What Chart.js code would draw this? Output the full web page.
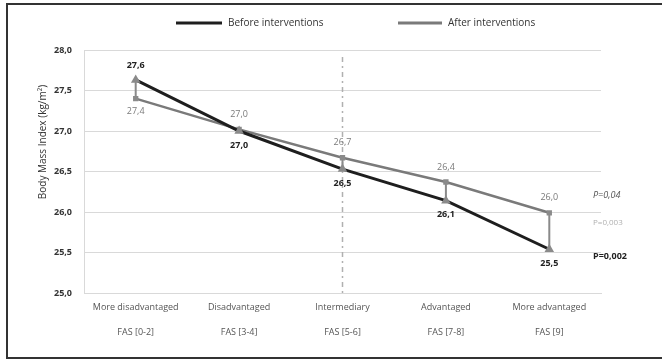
<!DOCTYPE html>
<html lang="en">
<head>
  <meta charset="UTF-8">
  <title>Body Mass Index by FAS</title>
  <script src="https://cdn.jsdelivr.net/npm/chart.js"></script>
  <style>
    body { margin: 0; background: #fff; }
    #wrap { position: relative; width: 662px; height: 361px; }
  </style>
</head>
<body>
  <div id="wrap">
    <canvas id="chartBmi" width="662" height="361"></canvas>
  </div>

  <script>
    // data
    const groups = ["More disadvantaged", "Disadvantaged", "Intermediary", "Advantaged", "More advantaged"];
    const fasLabels = ["FAS [0-2]", "FAS [3-4]", "FAS [5-6]", "FAS [7-8]", "FAS [9]"];
    const beforeValues = [27.63, 27.0, 26.53, 26.14, 25.54];
    const afterValues = [27.4, 27.02, 26.67, 26.37, 25.99];
    const yTicks = [25.0, 25.5, 26.0, 26.5, 27.0, 27.5, 28.0];
    const pTexts = ["P=0,04", "P=0,003", "P=0,002"];
    const pLevels = [26.2, 25.87, 25.45];

    const fmt = v => v.toFixed(1).replace(".", ",");

    // frame, legend, y title, connectors, value labels, p values
    const extras = {
      id: "extras",
      beforeDraw(chart) {
        const ctx = chart.ctx;
        ctx.save();
        ctx.fillStyle = "#fff";
        ctx.fillRect(0, 0, chart.width, chart.height);
        ctx.restore();
      },
      beforeDatasetsDraw(chart) {
        const ctx = chart.ctx;
        const x = chart.scales.x, y = chart.scales.y;
        ctx.save();
        // dash-dot line at Intermediary
        const xm = x.getPixelForValue(2);
        ctx.strokeStyle = "#b0b0b0";
        ctx.lineWidth = 1.5;
        ctx.setLineDash([5, 4, 2, 4]);
        ctx.beginPath();
        ctx.moveTo(xm, y.top + 7);
        ctx.lineTo(xm, y.bottom);
        ctx.stroke();
        ctx.setLineDash([]);
        // connectors before/after
        ctx.strokeStyle = "#8a8a8a";
        ctx.lineWidth = 2;
        groups.forEach((g, i) => {
          const px = x.getPixelForValue(i);
          ctx.beginPath();
          ctx.moveTo(px, y.getPixelForValue(beforeValues[i]));
          ctx.lineTo(px, y.getPixelForValue(afterValues[i]));
          ctx.stroke();
        });
        ctx.restore();
      },
      afterDraw(chart) {
        const ctx = chart.ctx;
        const x = chart.scales.x, y = chart.scales.y;
        ctx.save();

        // frame (right side is cut off in the original)
        ctx.strokeStyle = "#333";
        ctx.lineWidth = 2;
        ctx.beginPath();
        ctx.moveTo(chart.width, 4);
        ctx.lineTo(7, 4);
        ctx.lineTo(7, 358);
        ctx.lineTo(chart.width, 358);
        ctx.stroke();

        // legend
        ctx.lineWidth = 3;
        ctx.strokeStyle = "#1e1e1e";
        ctx.beginPath(); ctx.moveTo(176, 23); ctx.lineTo(222, 23); ctx.stroke();
        ctx.strokeStyle = "#7a7a7a";
        ctx.beginPath(); ctx.moveTo(398, 23); ctx.lineTo(442, 23); ctx.stroke();
        ctx.fillStyle = "#333";
        ctx.font = "10px 'Open Sans'";
        ctx.textBaseline = "middle";
        ctx.textAlign = "left";
        ctx.fillText("Before interventions", 228, 23);
        ctx.fillText("After interventions", 448, 23);

        // y axis title
        ctx.save();
        ctx.translate(43, 142);
        ctx.rotate(-Math.PI / 2);
        ctx.textAlign = "center";
        ctx.font = "10px 'Open Sans'";
        ctx.fillStyle = "#333";
        ctx.fillText("Body Mass Index (kg/m\u00b2)", 0, 0);
        ctx.restore();

        // value labels
        ctx.textAlign = "center";
        groups.forEach((g, i) => {
          const px = x.getPixelForValue(i);
          const bUp = i === 0;
          const pb = y.getPixelForValue(beforeValues[i]);
          const pa = y.getPixelForValue(afterValues[i]);
          ctx.font = "bold 9px 'Open Sans'";
          ctx.fillStyle = "#222";
          ctx.fillText(fmt(beforeValues[i]), px, pb + (bUp ? -15 : 14));
          ctx.font = "9px 'Open Sans'";
          ctx.fillStyle = "#7a7a7a";
          ctx.fillText(fmt(afterValues[i]), px, pa + (bUp ? 13 : -15));
        });

        // p values
        ctx.textAlign = "left";
        const pStyles = [
          ["italic 9px 'Open Sans'", "#555"],
          ["8px 'Open Sans'", "#b0b0b0"],
          ["bold 9px 'Open Sans'", "#222"]
        ];
        pTexts.forEach((t, i) => {
          ctx.font = pStyles[i][0];
          ctx.fillStyle = pStyles[i][1];
          ctx.fillText(t, x.right - 8, y.getPixelForValue(pLevels[i]));
        });
        ctx.restore();
      }
    };

    const ctx = document.getElementById("chartBmi").getContext("2d");
    new Chart(ctx, {
      type: "line",
      data: {
        labels: groups.map((g, i) => [g, fasLabels[i]]),
        datasets: [
          {
            label: "Before interventions",
            data: beforeValues,
            borderColor: "#1e1e1e",
            borderWidth: 3,
            pointStyle: "triangle",
            pointRadius: 2.5,
            pointBackgroundColor: "#8a8a8a",
            pointBorderColor: "#8a8a8a",
            tension: 0
          },
          {
            label: "After interventions",
            data: afterValues,
            borderColor: "#7a7a7a",
            borderWidth: 2.5,
            pointStyle: "rect",
            pointRadius: 2,
            pointBackgroundColor: "#8a8a8a",
            pointBorderColor: "#8a8a8a",
            tension: 0
          }
        ]
      },
      options: {
        responsive: false,
        animation: false,
        layout: { padding: { left: 20, right: 61, top: 50, bottom: 13 } },
        plugins: {
          legend: { display: false },
          tooltip: { enabled: false }
        },
        scales: {
          x: {
            offset: true,
            grid: { display: false, drawTicks: false },
            border: { color: "#d9d9d9" },
            ticks: {
              padding: 2,
              color: "#555",
              font: { family: "'Open Sans'", size: 9, lineHeight: 2.75 },
              maxRotation: 0,
              autoSkip: false
            },
            afterFit: s => { s.height = 55; }
          },
          y: {
            min: 25,
            max: 28,
            afterBuildTicks: s => { s.ticks = yTicks.map(v => ({ value: v })); },
            grid: { color: "#d9d9d9", drawTicks: false },
            border: { color: "#d9d9d9" },
            ticks: {
              padding: 12,
              color: "#333",
              font: { family: "'Open Sans'", size: 9, weight: "bold" },
              callback: v => fmt(v)
            },
            afterFit: s => { s.width = 64; }
          }
        }
      },
      plugins: [extras]
    });
  </script>
</body>
</html>
